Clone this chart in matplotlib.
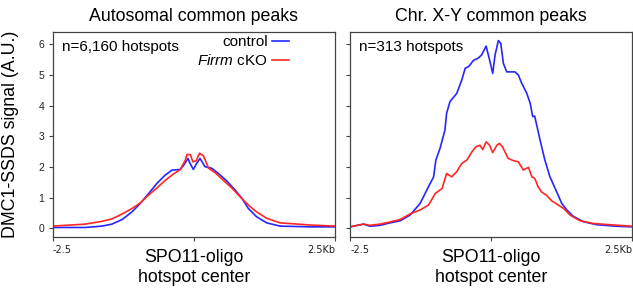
import matplotlib
matplotlib.use("Agg")
import matplotlib.pyplot as plt

plt.rcParams['font.family'] = ['Liberation Sans', 'DejaVu Sans']
plt.rcParams['mathtext.fontset'] = 'custom'
plt.rcParams['mathtext.it'] = 'Liberation Sans:italic'
plt.rcParams['mathtext.rm'] = 'Liberation Sans'

# ---- data (kb from hotspot center, signal A.U.) ----
auto_ctrl_x = [-2.5, -1.92, -1.627, -1.45, -1.27, -1.095, -0.95, -0.80, -0.653, -0.506, -0.387,
               -0.24, -0.18, -0.104, -0.068, -0.01, 0.05, 0.109, 0.197, 0.316, 0.433, 0.58,
               0.73, 0.85, 0.964, 1.11, 1.29, 1.526, 2.06, 2.5]
auto_ctrl_y = [0.03, 0.03, 0.075, 0.14, 0.29, 0.54, 0.81, 1.14, 1.47, 1.74, 1.90,
               1.92, 2.06, 2.28, 2.12, 1.92, 2.12, 2.28, 2.01, 1.96, 1.79, 1.55,
               1.25, 0.98, 0.65, 0.38, 0.18, 0.075, 0.05, 0.05]

auto_cko_x = [-2.5, -1.92, -1.627, -1.45, -1.27, -1.095, -0.95, -0.80, -0.653, -0.506, -0.37,
              -0.24, -0.15, -0.122, -0.06, -0.02, 0.04, 0.1, 0.17, 0.26, 0.38, 0.52, 0.67,
              0.82, 0.964, 1.11, 1.29, 1.526, 2.06, 2.5]
auto_cko_y = [0.075, 0.14, 0.23, 0.31, 0.47, 0.65, 0.83, 1.09, 1.32, 1.57, 1.76,
              1.92, 2.23, 2.41, 2.40, 2.17, 2.20, 2.45, 2.36, 1.96, 1.81, 1.57, 1.32,
              1.03, 0.76, 0.54, 0.33, 0.18, 0.11, 0.075]

xy_ctrl_x = [-2.5, -2.26, -2.15, -1.97, -1.79, -1.61, -1.44, -1.26, -1.11, -1.02, -0.98, -0.906,
             -0.82, -0.79, -0.73, -0.61, -0.52, -0.46, -0.40, -0.316, -0.23, -0.17, -0.09, -0.03,
             0.027, 0.068, 0.127, 0.17, 0.215, 0.275, 0.42, 0.48, 0.54, 0.63, 0.69, 0.735, 0.77,
             0.865, 0.95, 1.04, 1.16, 1.25, 1.34, 1.45, 1.63, 1.87, 2.22, 2.5]
xy_ctrl_y = [0.05, 0.14, 0.07, 0.10, 0.18, 0.25, 0.43, 0.81, 1.36, 1.68, 2.23, 2.61,
             3.20, 3.75, 4.13, 4.40, 4.84, 5.22, 5.27, 5.47, 5.55, 5.65, 5.94, 5.50,
             5.05, 5.65, 6.12, 6.03, 5.38, 5.10, 5.10, 5.00, 4.73, 4.40, 4.08, 3.64, 3.66,
             2.88, 2.23, 1.68, 1.19, 0.81, 0.60, 0.40, 0.22, 0.12, 0.07, 0.05]

xy_cko_x = [-2.5, -2.26, -2.15, -1.97, -1.79, -1.61, -1.44, -1.26, -1.11, -0.99, -0.87, -0.79,
            -0.70, -0.61, -0.52, -0.43, -0.34, -0.27, -0.2, -0.15, -0.09, -0.03, 0.027, 0.1,
            0.145, 0.2, 0.30, 0.39, 0.48, 0.57, 0.66, 0.72, 0.77, 0.83, 0.89, 0.98, 1.07,
            1.19, 1.28, 1.4, 1.57, 1.81, 2.1, 2.5]
xy_cko_y = [0.05, 0.14, 0.10, 0.14, 0.21, 0.29, 0.47, 0.60, 0.76, 1.14, 1.30, 1.79,
            1.68, 1.85, 2.12, 2.23, 2.50, 2.66, 2.71, 2.57, 2.82, 2.71, 2.47, 2.71,
            2.77, 2.66, 2.28, 2.21, 2.17, 1.90, 1.99, 1.68, 1.63, 1.36, 1.19, 1.08, 0.90,
            0.76, 0.65, 0.43, 0.25, 0.16, 0.12, 0.07]

titles = ["Autosomal common peaks", "Chr. X-Y common peaks"]
counts = ["n=6,160 hotspots", "n=313 hotspots"]
series_labels = ["control", r"$\it{Firrm}$ cKO"]
yticks = [0, 1, 2, 3, 4, 5, 6]
xtick_labels = ["-2.5", "", "2.5Kb"]

BLUE = "#2626ff"
RED = "#ff2626"
SPINE = "#444444"

fig = plt.figure(figsize=(6.33, 2.90), dpi=100)
axL = fig.add_axes([0.0833, 0.1828, 0.446, 0.708])
axR = fig.add_axes([0.553, 0.1828, 0.446, 0.708])

data = [(auto_ctrl_x, auto_ctrl_y, auto_cko_x, auto_cko_y),
        (xy_ctrl_x, xy_ctrl_y, xy_cko_x, xy_cko_y)]

for i, ax in enumerate([axL, axR]):
    cx, cy, kx, ky = data[i]
    l1, = ax.plot(cx, cy, color=BLUE, lw=1.2, label=series_labels[0])
    l2, = ax.plot(kx, ky, color=RED, lw=1.2, label=series_labels[1])
    ax.set_xlim(-2.5, 2.5)
    ax.set_ylim(-0.28, 6.41)
    ax.set_yticks(yticks)
    ax.set_xticks([-2.5, 0, 2.5])
    ax.set_xticklabels(xtick_labels, fontsize=7, family='DejaVu Sans', color='#222222')
    labs = ax.get_xticklabels()
    labs[0].set_ha('left')
    labs[2].set_ha('right')
    ax.tick_params(axis='both', length=3, width=0.8, color=SPINE, direction='out', pad=3)
    ax.tick_params(axis='y', labelsize=7.5, labelcolor='#222222')
    for s in ax.spines.values():
        s.set_color(SPINE)
        s.set_linewidth(0.9)
    ax.set_title(titles[i], fontsize=12.8, pad=8)
    ax.text(0.032, 0.925, counts[i], transform=ax.transAxes, fontsize=11,
            ha='left', va='center')
    ax.set_xlabel("SPO11-oligo\nhotspot center", fontsize=12.8, labelpad=-4.5,
                  linespacing=1.2)
    if i == 0:
        ax.set_ylabel("DMC1-SSDS signal (A.U.)", fontsize=12.8, labelpad=14)
        ax.legend(handles=[l1, l2], loc='upper right', frameon=False,
                  markerfirst=False, fontsize=11, handlelength=1.1,
                  handletextpad=0.3, borderaxespad=0.0, borderpad=0.0,
                  labelspacing=0.25, bbox_to_anchor=(0.837, 0.982))
    else:
        ax.set_yticklabels([])

fig.savefig("out.png", dpi=100)
